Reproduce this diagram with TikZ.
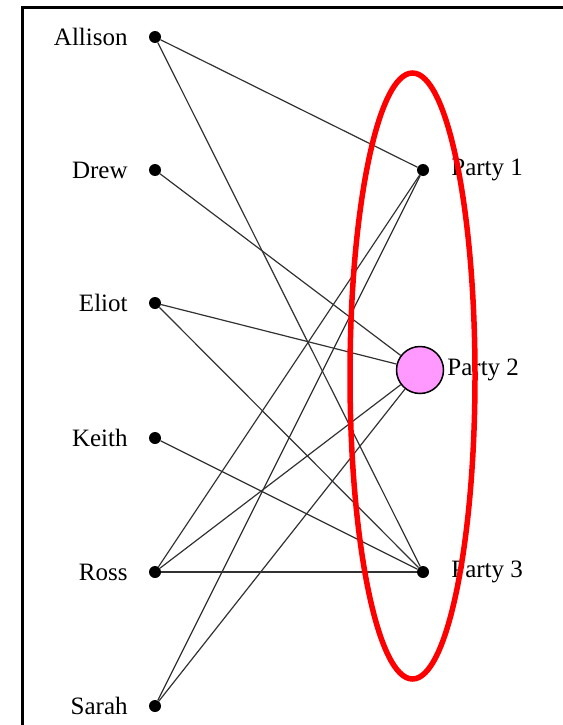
\documentclass[tikz,border=0pt]{standalone}
\usepackage{fontspec}
\setmainfont{Liberation Serif}
\usepackage{xcolor}
\usepackage{tikz}
\usetikzlibrary{positioning}
\definecolor{edgegray}{RGB}{50,50,50}
\definecolor{partypink}{RGB}{255,153,255}
\definecolor{ringred}{RGB}{255,0,0}
\tikzset{
  dot/.style={circle, fill=black, inner sep=0pt, minimum size=12pt},
  hub/.style={circle, draw=black, line width=1.5pt, fill=partypink,
              inner sep=0pt, minimum size=47pt},
  tagtext/.style={font=\fontsize{25}{30}\selectfont, inner sep=2pt},
  link/.style={line width=1.2pt, color=edgegray},
  ring/.style={line width=5.5pt, color=ringred}
}

\begin{document}
\begin{tikzpicture}[x=1pt, y=-1pt]

  \useasboundingbox (0,0) rectangle (562,725);

  % frame
  \draw[line width=3pt] (22,730) -- (22,8) -- (570,8);

  % people
  \node[dot] (allison) at (155,37) {};
  \node[dot] (drew)    at (155,170) {};
  \node[dot] (eliot)   at (155,303) {};
  \node[dot] (keith)   at (155,438) {};
  \node[dot] (ross)    at (155,572) {};
  \node[dot] (sarah)   at (155,706) {};

  \node[tagtext, left=19pt of allison] (allisontag) {Allison};
  \node[tagtext, left=19pt of drew]    (drewtag)    {Drew};
  \node[tagtext, left=19pt of eliot]   (eliottag)   {Eliot};
  \node[tagtext, left=19pt of keith]   (keithtag)   {Keith};
  \node[tagtext, left=19pt of ross]    (rosstag)    {Ross};
  \node[tagtext, left=19pt of sarah]   (sarahtag)   {Sarah};

  % parties
  \node[dot] (p1) at (423,170) {};
  \node[hub] (p2) at (420,370) {};
  \node[dot] (p3) at (423,572) {};

  \node[tagtext, right=20pt of p1] (p1tag) {Party 1};
  \node[tagtext, right=1pt of p2]  (p2tag) {Party 2};
  \node[tagtext, right=20pt of p3] (p3tag) {Party 3};

  % links
  \draw[link] (allison) -- (p1);
  \draw[link] (allison) -- (p3);
  \draw[link] (drew)    -- (p2);
  \draw[link] (eliot)   -- (p2);
  \draw[link] (eliot)   -- (p3);
  \draw[link] (keith)   -- (p3);
  \draw[link] (ross)    -- (p1);
  \draw[link] (ross)    -- (p2);
  \draw[link] (ross)    -- (p3);
  \draw[link] (sarah)   -- (p1);
  \draw[link] (sarah)   -- (p2);

  % red ring
  \draw[ring] (412.5,376) ellipse [x radius=62.5, y radius=303];

\end{tikzpicture}
\end{document}
